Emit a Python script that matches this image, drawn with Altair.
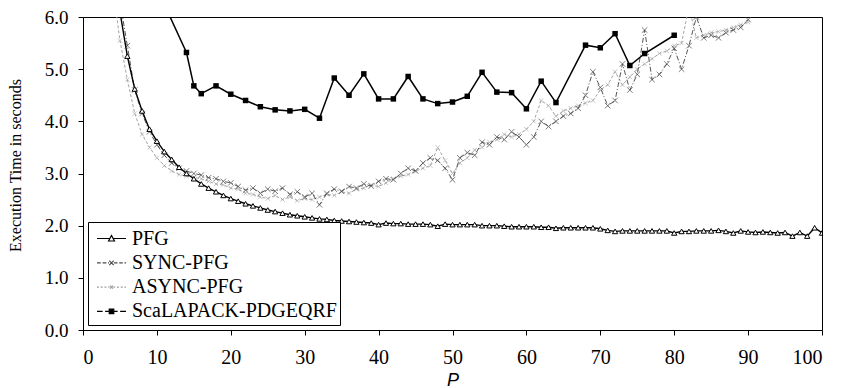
import altair as alt
import pandas as pd

series_names = ["PFG", "SYNC-PFG", "ASYNC-PFG", "ScaLAPACK-PDGEQRF"]

pfg_p = list(range(4, 101))
pfg_t = [
    7.10, 6.10, 5.25, 4.62, 4.20, 3.85, 3.62, 3.42, 3.27, 3.12,
    3.00, 2.90, 2.80, 2.72, 2.65, 2.58, 2.52, 2.47, 2.42, 2.38,
    2.34, 2.30, 2.27, 2.24, 2.21, 2.19, 2.17, 2.15, 2.13, 2.12,
    2.10, 2.09, 2.08, 2.07, 2.06, 2.05, 2.02, 2.05, 2.04, 2.04,
    2.03, 2.03, 2.03, 2.02, 1.99, 2.03, 2.02, 2.02, 2.02, 2.02,
    2.00, 2.00, 2.00, 1.99, 1.98, 1.98, 1.98, 1.98, 1.97, 1.97,
    1.95, 1.96, 1.96, 1.96, 1.96, 1.96, 1.94, 1.91, 1.89, 1.90,
    1.90, 1.90, 1.90, 1.90, 1.90, 1.90, 1.86, 1.89, 1.89, 1.90,
    1.90, 1.90, 1.91, 1.89, 1.86, 1.90, 1.88, 1.87, 1.88, 1.87,
    1.86, 1.87, 1.80, 1.87, 1.80, 1.96, 1.86,
]

sync_p = list(range(5, 91))
sync_t = [
    6.30, 5.45, 4.60, 4.15, 3.80, 3.55, 3.35, 3.20, 3.10, 3.05,
    3.00, 2.97, 2.92, 2.90, 2.85, 2.82, 2.75, 2.68, 2.72, 2.62,
    2.70, 2.66, 2.72, 2.60, 2.65, 2.55, 2.62, 2.40, 2.62, 2.70,
    2.66, 2.75, 2.72, 2.80, 2.76, 2.85, 2.90, 2.88, 3.00, 3.10,
    3.05, 3.20, 3.30, 3.25, 3.10, 2.88, 3.30, 3.40, 3.35, 3.60,
    3.55, 3.70, 3.65, 3.80, 3.70, 3.55, 3.70, 4.00, 3.90, 4.00,
    4.10, 4.15, 4.25, 4.50, 4.95, 4.65, 4.30, 4.40, 5.10, 4.60,
    4.90, 5.75, 4.80, 4.90, 5.10, 5.40, 5.00, 5.45, 6.00, 5.60,
    5.65, 5.60, 5.70, 5.75, 5.80, 5.95,
]

async_p = list(range(4, 91))
async_t = [
    6.60, 5.55, 4.80, 4.15, 3.75, 3.50, 3.30, 3.15, 3.05, 2.98,
    2.95, 2.92, 2.90, 2.85, 2.80, 2.78, 2.72, 2.70, 2.62, 2.60,
    2.55, 2.52, 2.58, 2.50, 2.55, 2.48, 2.52, 2.50, 2.55, 2.60,
    2.58, 2.65, 2.62, 2.70, 2.72, 2.78, 2.75, 2.82, 2.90, 2.95,
    2.98, 3.05, 3.10, 3.15, 3.50, 3.25, 3.00, 3.20, 3.30, 3.45,
    3.50, 3.60, 3.65, 3.75, 3.70, 3.75, 3.85, 4.00, 4.40, 4.30,
    4.10, 4.20, 4.25, 4.30, 4.35, 4.40, 4.60, 4.70, 4.95, 4.70,
    4.85, 5.00, 5.10, 5.20, 5.30, 5.35, 5.45, 5.50, 6.20, 5.60,
    5.65, 5.70, 5.72, 5.75, 5.80, 5.85, 5.90,
]

scala_p = [10, 14, 15, 16, 18, 20, 22, 24, 26, 28, 30, 32, 34, 36, 38, 40, 42,
           44, 46, 48, 50, 52, 54, 56, 58, 60, 62, 64, 68, 70, 72, 74, 76, 80]
scala_t = [6.55, 5.32, 4.68, 4.53, 4.68, 4.52, 4.40, 4.28, 4.22, 4.20, 4.23,
           4.06, 4.83, 4.50, 4.91, 4.43, 4.43, 4.86, 4.43, 4.34, 4.37, 4.48,
           4.94, 4.56, 4.55, 4.24, 4.77, 4.36, 5.46, 5.41, 5.68, 5.07, 5.30, 5.65]

x_ticks = [0, 10, 20, 30, 40, 50, 60, 70, 80, 90, 100]
y_ticks = [0, 1, 2, 3, 4, 5, 6]

rows = []
for name, ps, ts in [("PFG", pfg_p, pfg_t), ("SYNC-PFG", sync_p, sync_t),
                     ("ASYNC-PFG", async_p, async_t),
                     ("ScaLAPACK-PDGEQRF", scala_p, scala_t)]:
    for p, t in zip(ps, ts):
        rows.append({"series": name, "P": p, "T": t})
df = pd.DataFrame(rows)

SERIF = "Liberation Serif"

x_enc = alt.X("P:Q", scale=alt.Scale(domain=[0, 100], nice=False),
              axis=alt.Axis(values=x_ticks, title="P", titleFont="Liberation Sans",
                            titleFontStyle="italic", titleFontWeight="normal",
                            titleFontSize=18, titleBaseline="alphabetic",
                            titleY=55, labelPadding=12, labelFont=SERIF,
                            labelFontSize=20, labelColor="black"))
y_enc = alt.Y("T:Q", scale=alt.Scale(domain=[0, 6], nice=False),
              axis=alt.Axis(values=y_ticks, format=".1f",
                            title="Execution Time in seconds", titleFont=SERIF,
                            titleFontWeight="normal", titleFontSize=16,
                            titleBaseline="alphabetic", titleAngle=270,
                            titleX=-63, titleY=148, labelPadding=10,
                            labelFont=SERIF, labelFontSize=19, labelColor="black"))

base = alt.Chart(df)

def line_layer(name, color, width, dash=None):
    kw = dict(color=color, strokeWidth=width, clip=True)
    if dash:
        kw["strokeDash"] = dash
    return base.transform_filter(alt.datum.series == name).mark_line(**kw).encode(x=x_enc, y=y_enc)

XPATH = "M-1,-1L1,1M-1,1L1,-1"

async_line = line_layer("ASYNC-PFG", "#a3a3a3", 1, [3, 2])
async_pts = base.transform_filter(alt.datum.series == "ASYNC-PFG").mark_point(
    shape=XPATH, size=18, color="#a3a3a3", strokeWidth=0.9, clip=True).encode(x=x_enc, y=y_enc)
sync_line = line_layer("SYNC-PFG", "#555555", 1, [5, 2, 1, 2])
sync_pts = base.transform_filter(alt.datum.series == "SYNC-PFG").mark_point(
    shape=XPATH, size=30, color="#444444", strokeWidth=1, clip=True).encode(x=x_enc, y=y_enc)
pfg_line = line_layer("PFG", "black", 1.4)
pfg_pts = base.transform_filter(alt.datum.series == "PFG").mark_point(
    shape="triangle-up", size=28, fill="white", fillOpacity=1, stroke="black",
    strokeWidth=1, filled=False, clip=True).encode(x=x_enc, y=y_enc)
scala_line = line_layer("ScaLAPACK-PDGEQRF", "black", 1.5)
scala_pts = base.transform_filter(alt.datum.series == "ScaLAPACK-PDGEQRF").mark_point(
    shape="square", size=30, filled=True, color="black", opacity=1, clip=True).encode(x=x_enc, y=y_enc)

legend_paths = [
    "M-0.6,0H0.42M0.7,0H1.72M0.32,0.2L0.56,-0.24L0.8,0.2Z",
    "M-0.6,0H-0.3M-0.15,0H0.15M0.28,0H0.36M0.76,0H1.04M1.18,0H1.46M1.6,0H1.72"
    "M0.38,-0.18L0.74,0.18M0.38,0.18L0.74,-0.18",
    "M-0.6,0H-0.45M-0.3,0H-0.15M0,0H0.15M0.3,0H0.4M0.72,0H0.85M1.0,0H1.15M1.3,0H1.45M1.6,0H1.72"
    "M0.44,-0.12L0.68,0.12M0.44,0.12L0.68,-0.12",
    "M-0.6,0H-0.15M0.05,0H0.38M0.74,0H1.05M1.25,0H1.72M0.38,-0.18H0.74V0.18H0.38Z",
]
legend_strokes = ["black", "#4a4a4a", "#9a9a9a", "black"]
legend_fills = ["white", "white", "white", "black"]

leg = alt.Legend(title=None, orient="none", legendX=5, legendY=205,
                 direction="vertical", symbolSize=625, symbolStrokeWidth=1.2,
                 symbolOpacity=1, labelFont=SERIF, labelFontSize=20,
                 labelColor="black", labelOffset=14, rowPadding=0.3, padding=3,
                 strokeColor="black", fillColor="white", labelLimit=400)

legend_layer = base.mark_point(opacity=0, filled=True).encode(
    x=x_enc, y=y_enc,
    shape=alt.Shape("series:N", scale=alt.Scale(domain=series_names, range=legend_paths), legend=leg),
    stroke=alt.Stroke("series:N", scale=alt.Scale(domain=series_names, range=legend_strokes), legend=leg),
    fill=alt.Fill("series:N", scale=alt.Scale(domain=series_names, range=legend_fills), legend=leg),
)

chart = alt.layer(
    async_line, async_pts, sync_line, sync_pts, pfg_line, pfg_pts,
    scala_line, scala_pts, legend_layer,
).properties(
    width=739, height=313,
    background="white",
    padding={"left": 75, "top": 9, "right": 11, "bottom": 58},
    autosize=alt.AutoSizeParams(type="none"),
).configure_view(
    stroke="black", strokeWidth=1
).configure_axis(
    grid=False, domainColor="black", domainWidth=1, tickColor="black",
    tickSize=5, labelFont=SERIF, labelFontSize=20, labelColor="black",
    titleColor="black",
)

chart.save("out.html", embed_options={"renderer": "svg", "actions": False})
